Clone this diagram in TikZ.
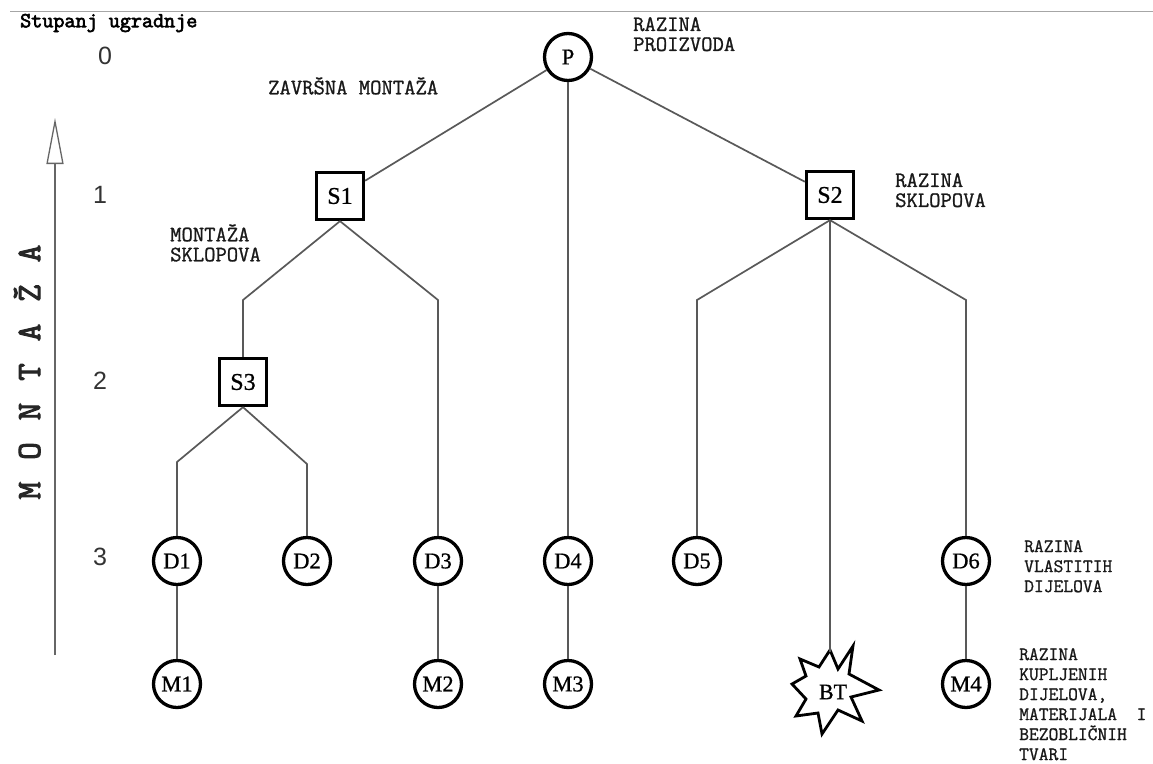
\documentclass[tikz,border=0pt]{standalone}
\usepackage{fontspec}
\setmainfont{Liberation Serif}
\newfontfamily\lblfont[FakeBold=1.1]{Latin Modern Mono}
\newfontfamily\hdrfont[FakeBold=3]{Latin Modern Mono}
\newfontfamily\montfont[FakeBold=3]{Latin Modern Mono}
\newfontfamily\nodefont[FakeBold=0.8]{Liberation Serif}
\newfontfamily\digfont{Liberation Sans}
\usetikzlibrary{arrows.meta}
\begin{document}
\begin{tikzpicture}[x=1pt,y=-1pt,
  conn/.style={draw=black!65, line width=1.7pt},
  circnode/.style={circle, draw, line width=3.3pt, minimum size=47pt, inner sep=0pt, font=\nodefont\fontsize{22.5}{22.5}\selectfont},
  sqnode/.style={rectangle, draw, line width=3.3pt, minimum size=47pt, inner sep=0pt, font=\nodefont\fontsize{24}{24}\selectfont},
  lbl/.style={font=\lblfont\fontsize{22}{20}\selectfont, align=left, anchor=north west, inner sep=0pt, text=black!90},
  lblsmall/.style={font=\lblfont\fontsize{19}{20}\selectfont, align=left, anchor=north west, inner sep=0pt, text=black!90},
  level/.style={font=\digfont\fontsize{25}{25}\selectfont, inner sep=0pt, text=black!80}
]
\useasboundingbox (0,0) rectangle (1153,763);
\fill[white] (0,0) rectangle (1153,763);
\draw[black!35, line width=1pt] (10,11) -- (1153,11);

% header and level numbers
\node[font=\hdrfont\fontsize{21.5}{21.5}\selectfont, anchor=west, inner sep=0pt] (hdr) at (20,23) {Stupanj ugradnje};
\node[level] (l0) at (105,56) {0};
\node[level] (l1) at (100,195) {1};
\node[level] (l2) at (100,381) {2};
\node[level] (l3) at (100,557) {3};

% montaza arrow
\coordinate (arrB) at (55,655);
\coordinate (arrT) at (55,118);
\draw[black!60, line width=1.3pt, -{Triangle[open, length=46pt, width=17pt, line width=1.3pt]}] (arrB) -- (arrT);
\node[rotate=90, font=\montfont\fontsize{34}{34}\selectfont, inner sep=0pt, text=black!85] (mont) at (27,372)
  {M\hspace{22pt}O\hspace{22pt}N\hspace{22pt}T\hspace{22pt}A\hspace{22pt}Ž\hspace{22pt}A};

% nodes
\node[circnode] (P) at (568,57) {P};
\node[sqnode] (S1) at (340,196) {S1};
\node[sqnode] (S2) at (830,195) {S2};
\node[sqnode] (S3) at (243,382) {S3};
\node[circnode] (D1) at (177,561) {D1};
\node[circnode] (D2) at (307,561) {D2};
\node[circnode] (D3) at (438,561) {D3};
\node[circnode] (D4) at (568,561) {D4};
\node[circnode] (D5) at (697,561) {D5};
\node[circnode] (D6) at (966,561) {D6};
\node[circnode] (M1) at (177,684) {M1};
\node[circnode] (M2) at (438,684) {M2};
\node[circnode] (M3) at (568,684) {M3};
\node[circnode] (M4) at (966,684) {M4};

% BT starburst
\draw[line width=2.8pt, line join=miter, fill=white]
  (830,650) -- (838,669) -- (853,646) -- (849,674) -- (879,690) -- (851,697) -- (862,721)
  -- (838,710) -- (822,734) -- (818,713) -- (796,716) -- (806,699) -- (792,684)
  -- (806,676) -- (800,659) -- (819,667) -- cycle;
\node[font=\nodefont\fontsize{22}{22}\selectfont, inner sep=0pt] (BT) at (833,692) {BT};
\coordinate (BTtop) at (830,652);

% bend points
\coordinate (b1) at (243,300);
\coordinate (b2) at (438,300);
\coordinate (b3) at (177,462);
\coordinate (b4) at (307,464);
\coordinate (b5) at (697,300);
\coordinate (b6) at (966,300);

% connectors
\draw[conn] (P) -- (S1);
\draw[conn] (P) -- (S2);
\draw[conn] (P) -- (D4);
\draw[conn] (S1.south) -- (b1) -- (S3.north);
\draw[conn] (S1.south) -- (b2) -- (D3.north);
\draw[conn] (S3.south) -- (b3) -- (D1.north);
\draw[conn] (S3.south) -- (b4) -- (D2.north);
\draw[conn] (S2.south) -- (b5) -- (D5.north);
\draw[conn] (S2.south) -- (b6) -- (D6.north);
\draw[conn] (S2.south) -- (BTtop);
\draw[conn] (D1) -- (M1);
\draw[conn] (D3) -- (M2);
\draw[conn] (D4) -- (M3);
\draw[conn] (D6) -- (M4);

% labels
\node[lbl] (tRP) at (633,17) {RAZINA\\PROIZVODA};
\node[lbl] (tZM) at (268,77) {ZAVRŠNA MONTAŽA};
\node[lbl] (tMS) at (170,224) {MONTAŽA\\SKLOPOVA};
\node[lbl] (tRS) at (895,173) {RAZINA\\SKLOPOVA};
\node[lblsmall] (tRV) at (1024,540) {RAZINA\\VLASTITIH\\DIJELOVA};
\node[lblsmall] (tRK) at (1019,648) {RAZINA\\KUPLJENIH\\DIJELOVA,\\MATERIJALA\ \ I\\BEZOBLIČNIH\\TVARI};
\end{tikzpicture}
\end{document}
